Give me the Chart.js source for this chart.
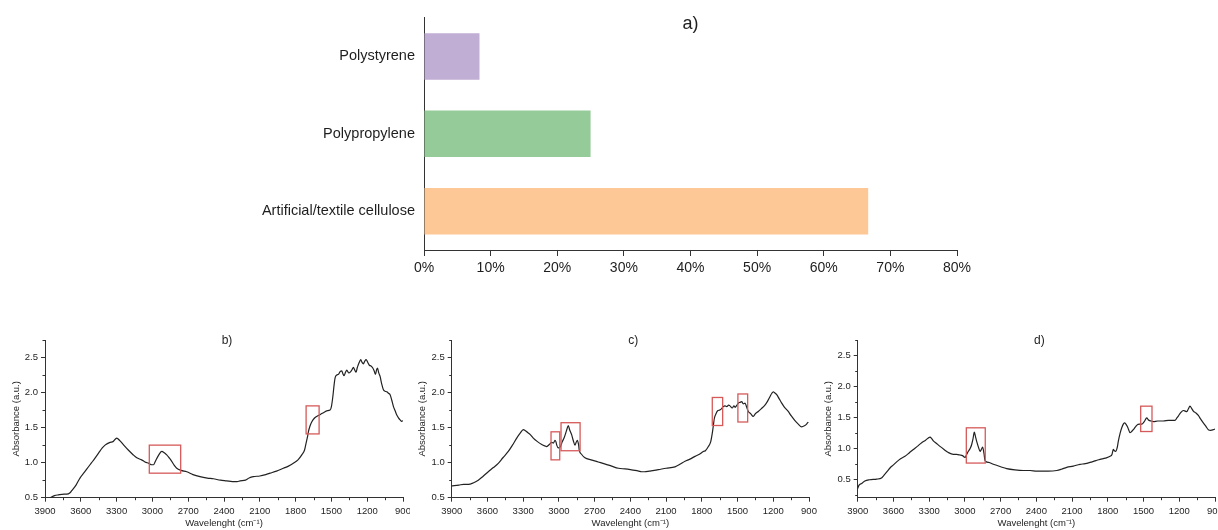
<!DOCTYPE html>
<html>
<head>
<meta charset="utf-8">
<script src="https://cdn.jsdelivr.net/npm/chart.js@4.4.0/dist/chart.umd.min.js"></script>
<style>
  body { margin: 0; background: #fff; width: 1218px; height: 530px; position: relative; overflow: hidden; }
  canvas { position: absolute; }
</style>
</head>
<body>
<canvas id="bars" width="1218" height="300" style="left:0;top:0"></canvas>
<canvas id="specB" width="410" height="200" style="left:0;top:330px"></canvas>
<canvas id="specC" width="410" height="200" style="left:410px;top:330px"></canvas>
<canvas id="specD" width="403" height="200" style="left:815px;top:330px"></canvas>
<script>
// a) share of polymer types
var polymers = ['Polystyrene', 'Polypropylene', 'Artificial/textile cellulose'];
var shares = [8.33, 25, 66.67];
var shareTicks = [0, 10, 20, 30, 40, 50, 60, 70, 80];

// FTIR spectra, wavenumber (cm-1) and absorbance
var waveTicks = [3900, 3600, 3300, 3000, 2700, 2400, 2100, 1800, 1500, 1200, 900];
var waveMinor = [3750, 3450, 3150, 2850, 2550, 2250, 1950, 1650, 1350, 1050];
var absTicks = [0.5, 1.0, 1.5, 2.0, 2.5];
var absMinor = [0.25, 0.75, 1.25, 1.75, 2.25, 2.75];

var bWave = [3858, 3820, 3788, 3740, 3718, 3690, 3676, 3640, 3607, 3571, 3523, 3500, 3450, 3420, 3397, 3355, 3330, 3299, 3271, 3240, 3202, 3160, 3131, 3090, 3062, 3030, 3006, 2990, 2978, 2950, 2922, 2900, 2880, 2860, 2846, 2820, 2796, 2760, 2712, 2660, 2601, 2540, 2489, 2430, 2377, 2330, 2290, 2265, 2220, 2190, 2154, 2100, 2050, 2014, 1960, 1902, 1860, 1819, 1780, 1748, 1725, 1712, 1700, 1693, 1680, 1665, 1645, 1623, 1600, 1581, 1560, 1539, 1511, 1500, 1488, 1478, 1469, 1455, 1441, 1427, 1413, 1404, 1394, 1382, 1371, 1355, 1338, 1326, 1316, 1304, 1293, 1284, 1274, 1264, 1254, 1243, 1232, 1220, 1209, 1195, 1182, 1168, 1153, 1142, 1131, 1122, 1114, 1103, 1092, 1078, 1064, 1050, 1036, 1022, 1008, 994, 980, 966, 952, 938, 924, 910, 902];
var bAbs = [0.50, 0.53, 0.54, 0.55, 0.55, 0.57, 0.60, 0.68, 0.78, 0.86, 0.97, 1.02, 1.14, 1.21, 1.25, 1.29, 1.30, 1.35, 1.31, 1.25, 1.18, 1.11, 1.07, 1.04, 1.01, 0.99, 0.97, 0.97, 1.01, 1.10, 1.16, 1.14, 1.11, 1.07, 1.04, 0.97, 0.92, 0.89, 0.87, 0.83, 0.80, 0.78, 0.77, 0.75, 0.74, 0.73, 0.73, 0.74, 0.75, 0.78, 0.80, 0.81, 0.83, 0.85, 0.88, 0.92, 0.95, 0.99, 1.04, 1.11, 1.18, 1.28, 1.37, 1.44, 1.52, 1.58, 1.63, 1.66, 1.68, 1.70, 1.72, 1.74, 1.75, 1.80, 1.94, 2.10, 2.21, 2.25, 2.26, 2.30, 2.31, 2.27, 2.24, 2.29, 2.32, 2.28, 2.30, 2.33, 2.36, 2.32, 2.29, 2.35, 2.40, 2.44, 2.47, 2.43, 2.41, 2.45, 2.47, 2.43, 2.39, 2.38, 2.35, 2.31, 2.26, 2.32, 2.35, 2.28, 2.23, 2.12, 2.04, 2.02, 2.01, 1.99, 1.97, 1.89, 1.80, 1.74, 1.68, 1.64, 1.61, 1.59, 1.60];
var bBoxes = [[3026, 2763, 0.85, 1.25], [1712, 1603, 1.41, 1.81]];

var cWave = [3900, 3840, 3800, 3760, 3720, 3677, 3640, 3593, 3550, 3509, 3470, 3425, 3390, 3354, 3325, 3299, 3285, 3270, 3240, 3215, 3180, 3144, 3120, 3102, 3080, 3060, 3045, 3033, 3025, 3018, 3005, 2990, 2971, 2955, 2943, 2932, 2921, 2910, 2893, 2880, 2865, 2855, 2845, 2835, 2829, 2810, 2781, 2730, 2669, 2610, 2557, 2500, 2445, 2400, 2361, 2330, 2305, 2280, 2240, 2200, 2165, 2100, 2025, 1980, 1941, 1900, 1857, 1820, 1787, 1770, 1745, 1725, 1712, 1703, 1695, 1680, 1667, 1650, 1633, 1620, 1605, 1590, 1575, 1563, 1545, 1530, 1521, 1505, 1493, 1480, 1465, 1452, 1437, 1425, 1409, 1390, 1368, 1350, 1326, 1300, 1270, 1250, 1228, 1212, 1200, 1190, 1171, 1150, 1129, 1110, 1090, 1074, 1050, 1018, 990, 962, 948, 934, 920, 906];
var cAbs = [0.67, 0.68, 0.69, 0.69, 0.71, 0.75, 0.80, 0.87, 0.93, 0.99, 1.07, 1.16, 1.25, 1.35, 1.42, 1.47, 1.46, 1.44, 1.40, 1.35, 1.30, 1.26, 1.24, 1.23, 1.26, 1.29, 1.28, 1.32, 1.30, 1.25, 1.21, 1.22, 1.30, 1.36, 1.42, 1.48, 1.53, 1.47, 1.40, 1.32, 1.25, 1.29, 1.32, 1.26, 1.18, 1.12, 1.07, 1.04, 1.01, 0.98, 0.95, 0.92, 0.91, 0.90, 0.89, 0.88, 0.87, 0.87, 0.88, 0.89, 0.90, 0.92, 0.94, 0.98, 1.02, 1.05, 1.09, 1.12, 1.16, 1.17, 1.23, 1.30, 1.42, 1.53, 1.63, 1.70, 1.74, 1.75, 1.77, 1.80, 1.81, 1.80, 1.82, 1.81, 1.78, 1.81, 1.79, 1.82, 1.85, 1.86, 1.87, 1.84, 1.85, 1.80, 1.73, 1.70, 1.66, 1.70, 1.73, 1.77, 1.82, 1.87, 1.94, 1.99, 2.01, 2.00, 1.97, 1.91, 1.85, 1.80, 1.76, 1.73, 1.67, 1.60, 1.55, 1.51, 1.52, 1.53, 1.55, 1.58];
var cBoxes = [[3066, 2993, 1.04, 1.44], [2982, 2822, 1.17, 1.57], [1712, 1625, 1.53, 1.93], [1497, 1415, 1.58, 1.98]];

var dWave = [3900, 3890, 3866, 3840, 3800, 3740, 3700, 3685, 3650, 3629, 3600, 3573, 3540, 3503, 3470, 3433, 3400, 3363, 3330, 3293, 3280, 3265, 3240, 3209, 3175, 3139, 3097, 3070, 3041, 3020, 2999, 2985, 2971, 2955, 2943, 2932, 2921, 2910, 2901, 2885, 2873, 2862, 2851, 2840, 2831, 2800, 2761, 2700, 2649, 2580, 2509, 2453, 2397, 2369, 2300, 2229, 2190, 2145, 2090, 2034, 1990, 1950, 1900, 1865, 1820, 1781, 1765, 1754, 1745, 1734, 1720, 1712, 1697, 1683, 1670, 1661, 1648, 1636, 1625, 1614, 1600, 1586, 1570, 1558, 1535, 1515, 1494, 1473, 1460, 1454, 1435, 1418, 1380, 1334, 1290, 1236, 1220, 1208, 1190, 1166, 1150, 1138, 1125, 1110, 1095, 1082, 1060, 1040, 1020, 998, 975, 956, 935, 914, 900];
var dAbs = [0.35, 0.40, 0.43, 0.47, 0.49, 0.50, 0.52, 0.55, 0.63, 0.68, 0.73, 0.78, 0.83, 0.87, 0.92, 0.98, 1.03, 1.09, 1.13, 1.18, 1.16, 1.12, 1.08, 1.03, 0.98, 0.93, 0.90, 0.90, 0.89, 0.88, 0.85, 0.90, 0.95, 1.00, 1.06, 1.15, 1.26, 1.18, 1.11, 1.01, 0.95, 0.98, 1.02, 0.92, 0.80, 0.77, 0.74, 0.70, 0.67, 0.65, 0.64, 0.64, 0.63, 0.63, 0.63, 0.64, 0.66, 0.69, 0.71, 0.74, 0.75, 0.77, 0.80, 0.82, 0.84, 0.87, 0.90, 0.98, 0.96, 0.95, 1.02, 1.11, 1.24, 1.33, 1.39, 1.41, 1.39, 1.35, 1.30, 1.25, 1.27, 1.30, 1.34, 1.37, 1.39, 1.39, 1.43, 1.49, 1.46, 1.45, 1.44, 1.43, 1.44, 1.44, 1.45, 1.45, 1.49, 1.52, 1.57, 1.61, 1.60, 1.59, 1.63, 1.68, 1.64, 1.60, 1.57, 1.53, 1.47, 1.41, 1.35, 1.30, 1.29, 1.30, 1.31];
var dBoxes = [[2988, 2829, 0.76, 1.33], [1524, 1429, 1.27, 1.68]];

var fontFamily = "'Liberation Sans', Arial, sans-serif";
var textColor = '#1e1e1e';
var axisColor = '#333';
Chart.defaults.font.family = fontFamily;
Chart.defaults.color = textColor;

// text label like "a)" drawn inside the top of the plot area
var panelLabel = {
  id: 'panelLabel',
  afterDraw: function(chart, args, opts) {
    var a = chart.chartArea, ctx = chart.ctx;
    ctx.save();
    ctx.font = opts.size + 'px ' + fontFamily;
    ctx.fillStyle = textColor;
    ctx.textAlign = 'center';
    ctx.textBaseline = 'middle';
    ctx.fillText(opts.text, (a.left + a.right) / 2 + (opts.dx || 0), a.top + opts.dy);
    ctx.restore();
  }
};

// small unlabelled ticks between the major ones
var minorTicks = {
  id: 'minorTicks',
  afterDraw: function(chart, args, opts) {
    var ctx = chart.ctx, xs = chart.scales.x, ys = chart.scales.y;
    ctx.save();
    ctx.strokeStyle = axisColor;
    ctx.lineWidth = 1;
    ctx.beginPath();
    opts.x.forEach(function(v) {
      var px = Math.round(xs.getPixelForValue(v)) + 0.5;
      ctx.moveTo(px, xs.top);
      ctx.lineTo(px, xs.top + 2.5);
    });
    opts.y.forEach(function(v) {
      if (v < ys.min || v > ys.max) return;
      var py = Math.round(ys.getPixelForValue(v)) + 0.5;
      ctx.moveTo(ys.right, py);
      ctx.lineTo(ys.right - 2.5, py);
    });
    ctx.stroke();
    ctx.restore();
  }
};

// red rectangles marking the bands
var bandBoxes = {
  id: 'bandBoxes',
  afterDatasetsDraw: function(chart, args, opts) {
    var ctx = chart.ctx, xs = chart.scales.x, ys = chart.scales.y;
    ctx.save();
    ctx.strokeStyle = '#d65a5a';
    ctx.lineWidth = 1.3;
    opts.boxes.forEach(function(b) {
      var x1 = xs.getPixelForValue(b[0]), x2 = xs.getPixelForValue(b[1]);
      var y1 = ys.getPixelForValue(b[3]), y2 = ys.getPixelForValue(b[2]);
      ctx.strokeRect(x1, y1, x2 - x1, y2 - y1);
    });
    ctx.restore();
  }
};

new Chart(document.getElementById('bars'), {
  type: 'bar',
  data: {
    labels: polymers,
    datasets: [{
      data: shares,
      backgroundColor: ['#c1aed4', '#94cb98', '#fec796'],
      borderWidth: 0,
      barPercentage: 0.6,
      categoryPercentage: 1.0
    }]
  },
  plugins: [panelLabel],
  options: {
    indexAxis: 'y',
    responsive: false,
    animation: false,
    layout: { padding: { top: 14, right: 261, left: 0, bottom: 0 } },
    plugins: {
      legend: { display: false },
      tooltip: { enabled: false },
      panelLabel: { text: 'a)', size: 18, dy: 6 }
    },
    scales: {
      x: {
        min: 0, max: 80,
        afterBuildTicks: function(s) { s.ticks = shareTicks.map(function(v) { return { value: v }; }); },
        afterFit: function(s) { s.height = 50; s.paddingLeft = 0; s.paddingRight = 0; },
        grid: { drawOnChartArea: false, tickLength: 6, color: axisColor },
        border: { color: axisColor },
        ticks: { font: { size: 14 }, color: textColor, padding: 4, maxRotation: 0,
                 callback: function(v) { return v + '%'; } }
      },
      y: {
        afterFit: function(s) { s.width = 424; },
        grid: { drawOnChartArea: false, drawTicks: false, color: axisColor },
        border: { color: axisColor },
        ticks: { font: { size: 14.5 }, color: textColor, padding: 9 }
      }
    }
  }
});

function spectrum(id, wave, abs, boxes, opt) {
  var points = wave.map(function(w, i) { return { x: w, y: abs[i] }; });
  new Chart(document.getElementById(id), {
    type: 'line',
    data: {
      datasets: [{
        data: points,
        borderColor: '#222',
        borderWidth: 1.2,
        pointRadius: 0,
        cubicInterpolationMode: 'monotone',
        fill: false
      }]
    },
    plugins: [panelLabel, minorTicks, bandBoxes],
    options: {
      responsive: false,
      animation: false,
      layout: { padding: { top: 10, right: opt.right, left: 0, bottom: 0 } },
      plugins: {
        legend: { display: false },
        tooltip: { enabled: false },
        panelLabel: { text: opt.label, size: 12, dy: 1, dx: 3 },
        minorTicks: { x: waveMinor, y: absMinor },
        bandBoxes: { boxes: boxes }
      },
      scales: {
        x: {
          type: 'linear', reverse: true, min: 900, max: 3900,
          afterBuildTicks: function(s) { s.ticks = waveTicks.map(function(v) { return { value: v }; }); },
          afterFit: function(s) { s.height = 32.3; s.paddingLeft = 0; s.paddingRight = 0; },
          grid: { drawOnChartArea: false, tickLength: 4, color: axisColor },
          border: { color: axisColor },
          ticks: { font: { size: 9.5 }, color: textColor, padding: 4, maxRotation: 0, autoSkip: false,
                   callback: function(v) { return String(v); } },
          title: { display: true, text: 'Wavelenght (cm\u207B\u00B9)', font: { size: 9.5 }, color: textColor,
                   padding: { top: 0, bottom: 1 } }
        },
        y: {
          min: opt.yMin, max: 2.75,
          afterBuildTicks: function(s) { s.ticks = absTicks.map(function(v) { return { value: v }; }); },
          afterFit: function(s) { s.width = opt.yWidth; },
          grid: { drawOnChartArea: false, tickLength: 4, color: axisColor },
          border: { color: axisColor },
          ticks: { font: { size: 9.5 }, color: textColor, padding: 3,
                   callback: function(v) { return v.toFixed(1); } },
          title: { display: true, text: 'Absorbance (a.u.)', font: { size: 9.5 }, color: textColor,
                   padding: { top: opt.titlePad, bottom: 0 } }
        }
      }
    }
  });
}

spectrum('specB', bWave, bAbs, bBoxes, { label: 'b)', right: 7, yWidth: 45, yMin: 0.5, titlePad: 11 });
spectrum('specC', cWave, cAbs, cBoxes, { label: 'c)', right: 11, yWidth: 41.7, yMin: 0.5, titlePad: 7 });
spectrum('specD', dWave, dAbs, dBoxes, { label: 'd)', right: 3, yWidth: 42.7, yMin: 0.2, titlePad: 8 });
</script>
</body>
</html>
